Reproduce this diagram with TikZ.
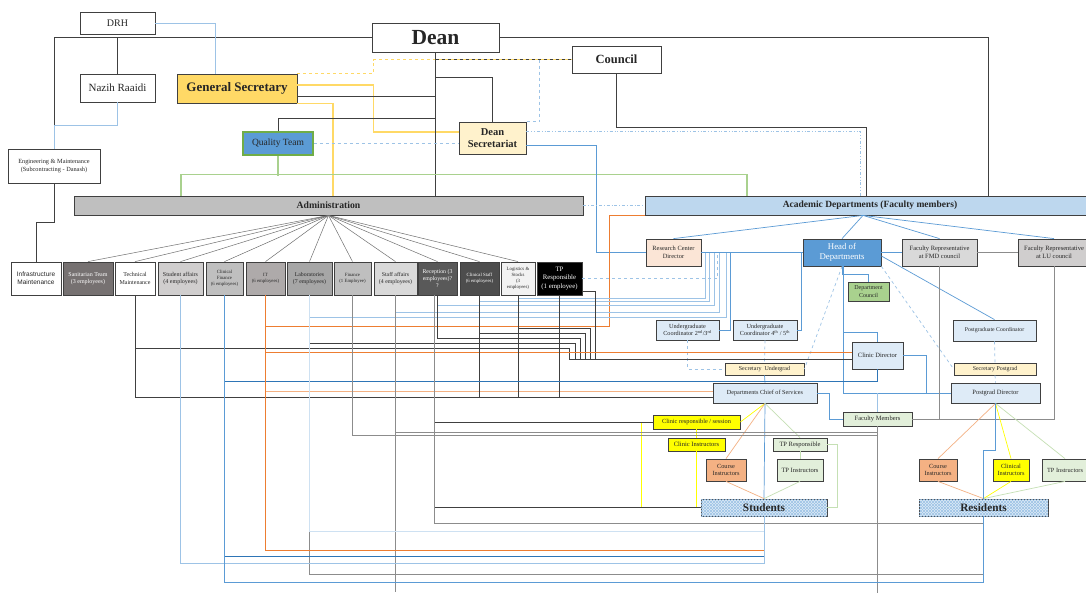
\documentclass[tikz,border=0pt]{standalone}
\usepackage{fontspec}
\setmainfont{Liberation Serif}
\newfontfamily\sansfnt{Liberation Sans}
\usetikzlibrary{patterns}
\definecolor{boxline}{HTML}{404040}
\definecolor{txt}{HTML}{262626}
\definecolor{wire}{HTML}{404040}
\definecolor{greywire}{HTML}{8C8C8C}
\definecolor{lightblue}{HTML}{9DC3E6}
\definecolor{midblue}{HTML}{5B9BD5}
\definecolor{darkblue}{HTML}{2E75B6}
\definecolor{orangewire}{HTML}{ED7D31}
\definecolor{peach}{HTML}{F4B183}
\definecolor{gold}{HTML}{FFD966}
\definecolor{brightyellow}{HTML}{FFFF00}
\definecolor{leafgreen}{HTML}{A9D18E}
\definecolor{grassgreen}{HTML}{70AD47}
\definecolor{palegreen}{HTML}{C5E0B4}
\definecolor{mint}{HTML}{E2EFDA}
\definecolor{paleblue}{HTML}{DEEBF7}
\definecolor{cream}{HTML}{FFF2CC}
\definecolor{salmon}{HTML}{FBE5D6}
\definecolor{barblue}{HTML}{BDD7EE}
\definecolor{sanitgray}{HTML}{767171}
\definecolor{stugray}{HTML}{D0CECE}
\definecolor{midgray}{HTML}{BFBFBF}
\definecolor{itgray}{HTML}{AEAAAA}
\definecolor{labgray}{HTML}{A6A6A6}
\definecolor{staffgray}{HTML}{D9D9D9}
\definecolor{recgray}{HTML}{595959}
\definecolor{csgray}{HTML}{4D4D4D}
\definecolor{loggray}{HTML}{F2F2F2}
\newcommand\fsz[1]{\fontsize{#1}{\dimexpr #1pt*6/5\relax}\selectfont}
\tikzset{
  box/.style={draw=boxline, line width=0.8pt, inner sep=0.5pt, align=center, text=txt},
  darkbox/.style={box, text=white},
  blk/.style={draw=wire, line width=0.6pt},
  gry/.style={draw=greywire, line width=0.6pt},
  lb/.style={draw=lightblue, line width=0.7pt},
  mb/.style={draw=midblue, line width=0.7pt},
  db/.style={draw=darkblue, line width=0.7pt},
  org/.style={draw=orangewire, line width=0.7pt},
  lorg/.style={draw=peach, line width=0.7pt},
  yl/.style={draw=brightyellow, line width=0.7pt},
  gd/.style={draw=gold, line width=1.1pt},
  grn/.style={draw=leafgreen, line width=1.1pt},
  lgr/.style={draw=palegreen, line width=0.7pt},
  fan/.style={draw=greywire!80!black, line width=0.5pt},
  hatch/.style={fill=paleblue, postaction={pattern=north east lines, pattern color=lightblue},
    postaction={pattern=north west lines, pattern color=lightblue}},
}

\begin{document}
\begin{tikzpicture}[x=1pt,y=-1pt]
\path[use as bounding box, fill=white] (0,0) rectangle (1086,592);
\clip (0,0) rectangle (1086,592);

\node[box, minimum width=75, minimum height=22, font=\fsz{10}] (drh) at (117.5,23) {DRH};
\node[box, minimum width=75, minimum height=28, font=\fsz{11}] (nazih) at (117.5,88) {Nazih Raaidi};
\node[box, fill=gold, minimum width=120, minimum height=29, font=\bfseries\fsz{13}] (gensec) at (237,88.5) {General Secretary};
\node[box, minimum width=127, minimum height=29, font=\bfseries\fsz{21.5}] (dean) at (435.5,37.5) {Dean};
\node[box, minimum width=89, minimum height=27, font=\bfseries\fsz{12.5}] (council) at (616.5,59.5) {Council};
\node[box, draw=grassgreen, line width=1.5pt, fill=midblue, minimum width=70, minimum height=23, font=\fsz{9.5}] (quality) at (278,143.5) {Quality Team};
\node[box, fill=cream, minimum width=67, minimum height=32, font=\bfseries\fsz{10.5}] (deansec) at (492.5,138) {Dean\\Secretariat};
\node[box, minimum width=92, minimum height=34, font=\fsz{6.3}] (eng) at (54,166) {Engineering \& Maintenance\\(Subcontracting - Danash)};
\node[box, fill=midgray, minimum width=509, minimum height=19, font=\bfseries\fsz{9.7}] (admin) at (328.5,205.5) {Administration};
\node[box, fill=barblue, minimum width=450, minimum height=19, font=\bfseries\fsz{9.5}] (acad) at (870,205.5) {Academic Departments (Faculty members)};

\node[box, minimum width=50, minimum height=33, font=\sansfnt\fsz{6.5}] (infra) at (36,278.5) {Infrastructure\\Maintenance};
\node[darkbox, fill=sanitgray, minimum width=50, minimum height=33, font=\fsz{6}] (sanit) at (88,278.5) {Sanitarian Team\\(3 employees)};
\node[box, minimum width=40, minimum height=33, font=\fsz{6}] (techm) at (135,278.5) {Technical\\Maintenance};
\node[box, fill=stugray, minimum width=45, minimum height=33, font=\fsz{6}] (studaff) at (180.5,278.5) {Student affairs\\(4 employees)};
\node[box, fill=midgray, minimum width=37, minimum height=33, font=\fsz{4.8}] (clinfin) at (224.5,278.5) {Clinical\\Finance\\(6 employees)};
\node[box, fill=itgray, minimum width=39, minimum height=33, font=\fsz{4.8}] (it) at (265.5,278.5) {IT\\(6 employees)};
\node[box, fill=labgray, minimum width=45, minimum height=33, font=\fsz{5.8}] (labs) at (309.5,278.5) {Laboratories\\(7 employees)};
\node[box, fill=midgray, minimum width=37, minimum height=33, font=\fsz{4.8}] (finance) at (352.5,278.5) {Finance\\(1 Employee)};
\node[box, fill=staffgray, minimum width=43, minimum height=33, font=\fsz{5.8}] (staffaff) at (395.5,278.5) {Staff affairs\\(4 employees)};
\node[darkbox, fill=recgray, minimum width=39, minimum height=33, font=\fsz{5.8}] (recep) at (437.5,278.5) {Reception (3\\employees)?\\?};
\node[darkbox, fill=csgray, minimum width=39, minimum height=33, font=\fsz{4.8}] (clinstaff) at (479.5,278.5) {Clinical Staff\\(6 employees)};
\node[box, fill=loggray, minimum width=34, minimum height=33, font=\fsz{4.8}] (logist) at (518,278.5) {Logistics \&\\Stocks\\(3\\employees)};
\node[darkbox, fill=black, minimum width=45, minimum height=33, font=\fsz{6.8}] (tpresp) at (559.5,278.5) {TP\\Responsible\\(1 employee)};

\node[box, fill=salmon, minimum width=55, minimum height=27, font=\fsz{6.4}] (research) at (673.5,252.5) {Research Center\\Director};
\node[darkbox, fill=midblue, minimum width=78, minimum height=27, font=\fsz{8.8}] (head) at (842,252.5) {Head of\\Departments};
\node[box, fill=staffgray, minimum width=75, minimum height=27, font=\fsz{6.5}] (fmd) at (939.5,252.5) {Faculty Representative\\at FMD council};
\node[box, fill=stugray, minimum width=72, minimum height=27, font=\fsz{6.5}] (lu) at (1054,252.5) {Faculty Representative\\at LU council};
\node[box, fill=leafgreen, minimum width=41, minimum height=19, font=\fsz{6}] (deptcouncil) at (868.5,291.5) {Department\\Council};
\node[box, fill=paleblue, minimum width=63, minimum height=20, font=\fsz{6.2}] (ugc23) at (687.5,330) {Undergraduate\\Coordinator 2\textsuperscript{nd}/3\textsuperscript{rd}};
\node[box, fill=paleblue, minimum width=64, minimum height=20, font=\fsz{6.2}] (ugc45) at (765,330) {Undergraduate\\Coordinator 4\textsuperscript{th} / 5\textsuperscript{th}};
\node[box, fill=paleblue, minimum width=83, minimum height=21, font=\fsz{5.8}] (pgcoord) at (994.5,330.5) {Postgraduate Coordinator};
\node[box, fill=paleblue, minimum width=51, minimum height=27, font=\fsz{6.5}] (clinicdir) at (877.5,355.5) {Clinic Director};
\node[box, fill=cream, minimum width=79, minimum height=12, font=\fsz{6}] (secug) at (764.5,369) {Secretary~ Undergrad};
\node[box, fill=cream, minimum width=82, minimum height=12, font=\fsz{5.9}] (secpg) at (995,369) {Secretary Postgrad};
\node[box, fill=paleblue, minimum width=104, minimum height=20, font=\fsz{6.2}] (dcs) at (765,393) {Departments Chief of Services};
\node[box, fill=paleblue, minimum width=89, minimum height=20, font=\fsz{6.5}] (pgdir) at (995.5,393) {Postgrad Director};
\node[box, fill=mint, minimum width=69, minimum height=14, font=\fsz{6.5}] (facmem) at (877.5,419) {Faculty Members};
\node[box, fill=brightyellow, minimum width=87, minimum height=14, font=\fsz{6.3}] (clinresp) at (696.5,422) {Clinic responsible / session};
\node[box, fill=brightyellow, minimum width=57, minimum height=13, font=\fsz{6.5}] (clininst) at (696.5,444.5) {Clinic Instructors};
\node[box, fill=mint, minimum width=54, minimum height=13, font=\fsz{6.5}] (tprespl) at (800,444.5) {TP Responsible};
\node[box, fill=peach, minimum width=40, minimum height=22, font=\fsz{6.3}] (courseS) at (726,470) {Course\\Instructors};
\node[box, fill=mint, minimum width=46, minimum height=22, font=\fsz{6.5}] (tpinstS) at (800,470) {TP Instructors};
\node[box, hatch, minimum width=126, minimum height=17, font=\bfseries\fsz{11.3}] (students) at (764,507.5) {Students};
\node[box, fill=peach, minimum width=38, minimum height=22, font=\fsz{6.3}] (courseR) at (938,470) {Course\\Instructors};
\node[box, fill=brightyellow, minimum width=36, minimum height=22, font=\fsz{6.3}] (clininstR) at (1011,470) {Clinical\\Instructors};
\node[box, fill=mint, minimum width=46, minimum height=22, font=\fsz{6.3}] (tpinstR) at (1065,470) {TP Instructors};
\node[box, hatch, minimum width=129, minimum height=17, font=\bfseries\fsz{11.3}] (residents) at (983.5,507.5) {Residents};

\draw[blk] (dean.west) -| ([yshift=24]eng.north);
\draw[blk] (nazih.north) -- (nazih.north |- dean.west);
\draw[lb] (nazih.south) -- ++(0,23) -| (eng.north);
\draw[blk] (eng.south) -- ++(0,39) -| (infra.north);
\draw[lb] (drh.east) -| ([xshift=-22]gensec.north);
\draw[gd, dashed, line width=0.9pt] (gensec.north east) -- ++(76,0) |- (council.west);
\draw[blk, dashed] (dean.south |- council.west) -- (council.west);
\draw[lb, dashed] ([xshift=-32]council.west) |- (deansec.north east);
\draw[gd] ([yshift=3.5]gensec.east) -- ++(76,0) |- ([yshift=6]deansec.west);
\draw[blk] ([yshift=-7.5]gensec.east) -| (dean.south);
\draw[gd] (gensec.south east) -| ([xshift=4.5]admin.north);
\draw[blk] (dean.south) -- (admin.north -| dean.south);
\draw[blk] (quality.north) -- ++(0,-13) -| (dean.south);
\draw[blk] (deansec.north) -- ++(0,-44) -| (dean.south);
\draw[lb, dashed] (quality.east) -- (quality.east -| deansec.west);
\draw[grn] (quality.south) -- ++(0,20);
\draw[grn] ([xshift=-147.5]admin.north) -- ++(0,-21) -| ([xshift=-123]acad.north);
\draw[blk] (dean.east) -| ([xshift=118]acad.north);
\draw[blk] (council.south) -- ++(0,54) -| ([xshift=-4]acad.north);
\draw[lb, dash dot dot] ([yshift=7]deansec.east) -| ([xshift=-10]acad.north);
\draw[mb] ([yshift=-7]deansec.east) -| ([xshift=-49]research.west) -- (research.west);
\draw[lb, dash dot] (admin.east) -- (acad.west);
\draw[org] (acad.south west) -- ++(-35,0) |- ([yshift=-31]it.south) -- (it.south);

\foreach \b in {sanit,techm,studaff,clinfin,it,labs,finance,staffaff,recep,clinstaff,logist}
  \draw[fan] (admin.south) -- (\b.north);
\coordinate (acadhub) at ([xshift=-7]acad.south);
\foreach \b in {research,head,fmd,lu}
  \draw[mb] (acadhub) -- (\b.north);

\draw[mb] (research.east) -- (head.west);
\draw[mb] (head.east) -- (fmd.west);
\draw[gry] (fmd.east) -- (lu.west);
\draw[mb] (head.south) -- ++(0,8) -| (deptcouncil.north);
\draw[mb] ([yshift=-3.5]head.east) -- (pgcoord.north);
\draw[lb, dashed] (head.south) -- (secug.east);
\draw[lb, dashed] (head.south east) -- (secpg.west);
\draw[lb, dashed] (ugc23.south) |- (secug.west);
\draw[lb, dashed] (ugc45.south) -- (secug.north);
\draw[mb] (secug.south) -- (dcs.north);
\draw[lb, dashed] (pgcoord.south) -- (secpg.north);
\draw[lb, dashed] (secpg.south) -- (pgdir.north);
\draw[mb] (ugc45.east) -- ++(4,0) |- (head.west);
\draw[mb] (ugc23.east) -- ++(11,0) |- (research.east);
\draw[mb] ([xshift=1]head.south) |- (pgdir.west);
\draw[mb] ([xshift=1]head.south) ++(0,66) -| (clinicdir.north);
\draw[mb] (clinicdir.east) -| ([xshift=-24]pgdir.west);
\draw[mb] (dcs.east) -| ([xshift=-13]facmem.west) -- (facmem.west);
\draw[lb] (facmem.north) -- (facmem.north |- pgdir.west);
\draw[gry] (facmem.east) -| (lu.south);
\draw[gry] (fmd.south) -- (fmd.south |- facmem.east);
\draw[gry] (facmem.south) -- ++(0,170);

\draw[yl] (dcs.south) -- (clinresp.east);
\draw[lorg] (dcs.south) -- (courseS.north);
\draw[lgr] (dcs.south) -- (tprespl.north);
\draw[mb] (dcs.south) -- (students.north);
\draw[yl] (clinresp.south) -- (clininst.north);
\draw[yl] (clininst.south) |- (students.west);
\draw[yl] (clinresp.west) -- ++(-11,0) |- (students.west);
\draw[lorg] (courseS.south) -- (students.north);
\draw[lgr] (tpinstS.south) -- (students.north);
\draw[lgr] (tprespl.south) -- (tpinstS.north);
\draw[lgr] (tprespl.east) -- ++(10,0) |- (students.east);
\draw[lorg] (pgdir.south) -- (courseR.north);
\draw[yl] (pgdir.south) -- (clininstR.north);
\draw[lgr] (pgdir.south) -- (tpinstR.north);
\draw[lorg] (courseR.south) -- (residents.north);
\draw[yl] (clininstR.south) -- (residents.north);
\draw[lgr] (tpinstR.south) -- (residents.north);
\draw[mb] (residents.north) -- ++(0,-48) -| (pgdir.south);

\foreach \b/\dy/\dx in {labs/22/25,staffaff/17/18,recep/10/13,clinstaff/6/8,logist/3/4}
  \draw[lb] (\b.south) -- ++(0,\dy) -| ([xshift=\dx]research.east);
\draw[lb, dashed] (tpresp.east) -| ([xshift=16]research.east);

\coordinate (cdin) at ([yshift=-3.5]clinicdir.west);
\draw[blk] (techm.south) -- ++(0,53) -| ([xshift=-282]cdin) -- (cdin);
\foreach \b/\dy/\dx in {labs/48/276,recep/43/271,clinstaff/38/266,logist/33/261}
  \draw[blk] (\b.south) -- ++(0,\dy) -| ([xshift=-\dx]cdin);
\draw[blk] ([yshift=4]tpresp.south east) -| ([xshift=-256]cdin);
\draw[org] (it.south) |- ([yshift=3.5]clinicdir.west);
\draw[lorg] (it.south) |- ([yshift=2]dcs.west);
\draw[blk] (techm.south) |- ([yshift=-4]dcs.west);
\foreach \b in {clinstaff,logist,tpresp}
  \draw[blk] (\b.south) -- ++(0,102);
\draw[db] (clinfin.south) |- ([yshift=-12]clinicdir.south) -- (clinicdir.south);
\draw[gry] (finance.south) -- ++(0,140) -| (facmem.south);
\draw[gry] (staffaff.south) -- ++(0,137) -| (facmem.south);
\draw[gry] (staffaff.south) -- ++(0,297);
\coordinate (recdrop) at ([xshift=-3.5]recep.south);
\draw[blk] (recdrop) |- (clinresp.west);
\draw[blk] (recdrop) |- (students.west);
\draw[gry] (recdrop) -- ++(0,228) -| (residents.south);
\draw[gry] (labs.south) -- ++(0,279) -| (residents.south);
\draw[lb, draw=lightblue!50] (labs.south) -- ++(0,236) -| (students.south);
\draw[org] (it.south) -- ++(0,255) -| (students.south);
\draw[db] (clinfin.south) -- ++(0,261) -| (students.south);
\draw[lb] (studaff.south) -- ++(0,268) -| (students.south);
\draw[mb] (clinfin.south) -- ++(0,287) -| (residents.south);
\end{tikzpicture}
\end{document}
